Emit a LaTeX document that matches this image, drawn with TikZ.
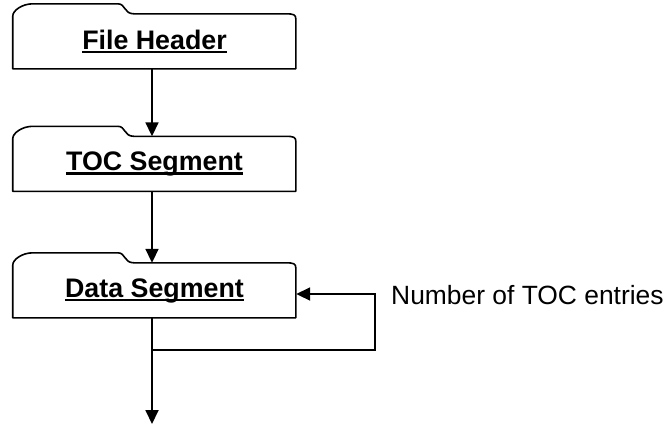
\documentclass[tikz,border=0pt]{standalone}
\usepackage{fontspec}
\setmainfont{Liberation Sans}
\usetikzlibrary{arrows.meta}
\newcommand\ulbold[1]{\setbox0=\hbox{#1}\rlap{\rule[-4bp]{\wd0}{2.3bp}}\box0}
\tikzset{
  seg/.style={minimum width=283bp, minimum height=55bp, inner sep=0pt,
    font=\fontsize{26.8bp}{30bp}\selectfont\bfseries},
  boxline/.style={line width=1.6bp, line join=round},
  arr/.style={line width=1.8bp, -{Triangle[length=14bp,width=13bp]}},
  plain/.style={line width=1.8bp},
  lbl/.style={inner sep=0pt, font=\fontsize{26.4bp}{30bp}\selectfont},
}
\begin{document}
\begin{tikzpicture}[x=1bp,y=-1bp]
\useasboundingbox (0,0) rectangle (670,425);
\node[seg] (fh)  at (154.5,41.5) {\ulbold{File Header}};
\node[seg] (toc) at (154.5,164)  {\ulbold{TOC Segment}};
\node[seg] (ds)  at (154.5,290.5) {\ulbold{Data Segment}};
\foreach \n in {fh,toc,ds}{
  \begin{scope}[shift={(\n.north west)}]
  \draw[boxline] (0,55) -- (0,2) .. controls (0,-3) and (9,-10) .. (20,-10)
    -- (105,-10) .. controls (113,-10) and (111,0) .. (121,0)
    -- (273,0) .. controls (281,0) and (283,1) .. (283,5)
    -- (283,55) -- cycle;
  \end{scope}
}
\draw[arr] ([xshift=-2.5bp]fh.south) -- ([xshift=-2.5bp]toc.north);
\draw[arr] ([xshift=-2.5bp]toc.south) -- ([xshift=-2.5bp]ds.north);
\coordinate (j) at (152,350);
\coordinate (end) at (152,424);
\draw[plain] ([xshift=-2.5bp]ds.south) -- (j);
\draw[arr] (j) -- (end);
\draw[arr] (j) -- (375,350) |- ([yshift=-3.5bp]ds.east);
\node[lbl, anchor=base west] (note) at (391,304) {Number of TOC entries};
\end{tikzpicture}
\end{document}
